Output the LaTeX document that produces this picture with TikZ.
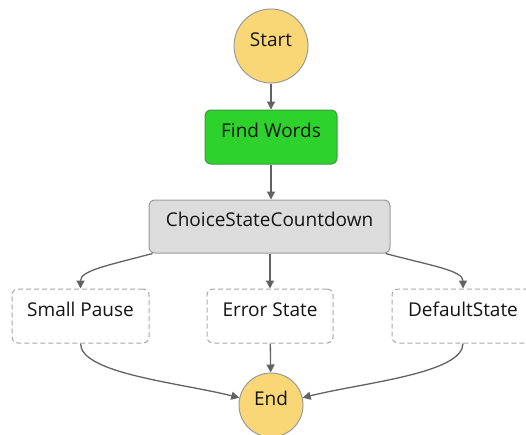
\documentclass[tikz,border=0pt]{standalone}
\usepackage{fontspec}
\setmainfont{Open Sans}
\usetikzlibrary{arrows.meta}
\definecolor{cyellow}{HTML}{F9D776}
\definecolor{cgreen}{HTML}{2DD22D}
\definecolor{cgreenb}{HTML}{3A9A3A}
\definecolor{cgray}{HTML}{DCDCDC}
\definecolor{cgrayb}{HTML}{9A9A9A}
\definecolor{cdash}{HTML}{A8A8A8}
\definecolor{carrow}{HTML}{626262}
\tikzset{
  txt/.style={font=\fontsize{19}{22}\selectfont, text=black!92, text height=14pt, text depth=14pt},
  termnode/.style={txt, circle, draw=cgrayb, line width=1pt, fill=cyellow, inner sep=0pt},
  taskbox/.style={txt, rectangle, rounded corners=6pt, draw=cgreenb, line width=1pt, fill=cgreen, inner sep=0pt},
  choicebox/.style={txt, rectangle, rounded corners=6pt, draw=cgrayb, line width=1pt, fill=cgray, inner sep=0pt},
  dashbox/.style={txt, rectangle, rounded corners=6pt, draw=cdash, dash pattern=on 5pt off 3pt, line width=1pt, fill=white, inner sep=0pt},
  conn/.style={draw=carrow, line width=1.3pt, -{Triangle[length=8pt,width=8pt]}},
}
\begin{document}
\begin{tikzpicture}[x=1pt,y=-1pt]
\useasboundingbox (0,0) rectangle (526,434);
\clip (0,0) rectangle (526,434);
\node[termnode, minimum size=74pt] (start) at (271,46) {Start};
\node[taskbox, minimum width=132pt, minimum height=54pt] (fw) at (271,137) {Find Words};
\node[choicebox, minimum width=241pt, minimum height=53pt] (choice) at (269.5,226.5) {ChoiceStateCountdown};
\node[dashbox, minimum width=137pt, minimum height=54pt] (sp) at (80.5,316) {Small Pause};
\node[dashbox, minimum width=126pt, minimum height=54pt] (es) at (270,316) {Error State};
\node[dashbox, minimum width=142pt, minimum height=54pt] (ds) at (463,316) {DefaultState};
\node[termnode, minimum size=64pt] (end) at (271,405) {End};

\draw[conn] (start) -- (fw);
\draw[conn] (fw) -- (choice.north -| fw);
\draw[conn] (choice.south -| es) -- (es);
\draw[conn] (es) -- (end);
\draw[conn] ([xshift=4pt]choice.south west) .. controls +(-45,12) and +(0,-18) .. (sp.north);
\draw[conn] ([xshift=-5pt]choice.south east) .. controls +(45,12) and +(0,-18) .. (ds.north);
\draw[conn] (sp.south) .. controls +(0,30) and +(-60,-15) .. (end.167);
\draw[conn] (ds.south) .. controls +(0,30) and +(60,-15) .. (end.13);
\end{tikzpicture}
\end{document}
